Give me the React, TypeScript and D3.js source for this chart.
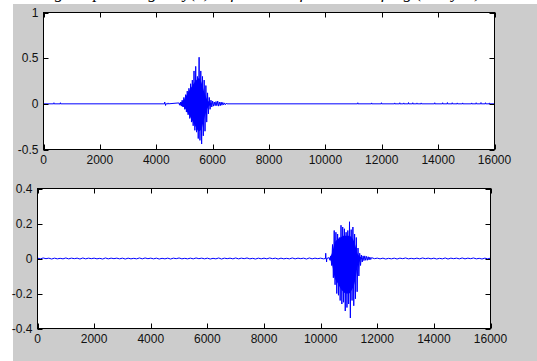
import React from 'react';
import * as d3 from 'd3';

// sample axis (both panels)
const xTicks = [0, 2000, 4000, 6000, 8000, 10000, 12000, 14000, 16000];
const topYTicks = [-0.5, 0, 0.5, 1];
const bottomYTicks = [-0.4, -0.2, 0, 0.2, 0.4];

const burstStep = 30; // samples between burst values
const coreStep = 100; // samples between core envelope values

// top panel: original word
const topBurstStart = 4800;
const topBurst = [
  0.01, -0.015, 0.02, -0.025, 0.04, -0.035, 0.07, -0.06, 0.1, -0.09,
  0.14, -0.12, 0.17, -0.16, 0.22, -0.2, 0.26, -0.24, 0.36, -0.29,
  0.41, -0.31, 0.3, -0.38, 0.51, -0.4, 0.36, -0.44, 0.3, -0.35,
  0.26, -0.3, 0.2, -0.2, 0.12, -0.11, 0.07, -0.06, 0.04, -0.035,
  0.03, -0.025, 0.02, -0.02, 0.025, -0.02, 0.03, -0.025, 0.02, -0.02,
  0.02, -0.015, 0.015, -0.01, 0.01, -0.01, 0.005, 0,
];
// solid centre of the burst (upper / lower edge)
const topCoreStart = 4800;
const topCoreHi = [0, 0.02, 0.05, 0.11, 0.16, 0.21, 0.25, 0.28, 0.24, 0.13, 0.05, 0.015, 0];
const topCoreLo = [0, -0.02, -0.04, -0.09, -0.14, -0.2, -0.25, -0.3, -0.28, -0.16, -0.06, -0.015, 0];
const topBlips: [number, number][] = [
  [370, 0.012], [600, 0.012], [4300, 0.02], [4330, -0.018], [4420, 0.01],
  [11150, 0.012], [11640, 0.01], [11990, 0.012], [12460, 0.01], [12640, 0.012],
  [12780, 0.01], [12950, 0.014], [13100, 0.012], [13250, 0.01], [13400, 0.01],
  [13880, 0.012], [14160, 0.012], [14330, 0.014], [14500, 0.012], [14680, 0.01],
  [14870, 0.01], [15190, 0.01], [15350, 0.012], [15520, 0.014], [15680, 0.012],
  [15820, 0.01],
];

// bottom panel: shifted word, with a low noise floor
const noiseStep = 100;
const bottomNoise = [
  0.002, -0.002, 0.003, -0.001, 0.002, -0.003, 0.002, -0.002, 0.001, -0.002,
  0.003, -0.002, 0.002, -0.001, 0.002, -0.003, 0.003, -0.002, 0.002, -0.001,
  0.002, -0.002, 0.001, -0.003, 0.003, -0.002, 0.002, -0.001, 0.002, -0.002,
  0.002, -0.003, 0.002, -0.002, 0.001, -0.002, 0.003, -0.002, 0.003, -0.001,
  0.002, -0.002, 0.002, -0.003, 0.001, -0.002, 0.002, -0.003, 0.002, -0.001,
  0.003, -0.002, 0.001, -0.002, 0.002, -0.002, 0.003, -0.001, 0.002, -0.002,
  0.002, -0.003, 0.001, -0.002, 0.003, -0.003, 0.002, -0.001, 0.002, -0.002,
  0.003, -0.002, 0.002, -0.001, 0.003, -0.002, 0.001, -0.003, 0.002, -0.002,
  0.002, -0.002, 0.003, -0.001, 0.002, -0.003, 0.002, -0.002, 0.001, -0.002,
  0.003, -0.002, 0.002, -0.001, 0.002, -0.003, 0.003, -0.002, 0.002, -0.001,
  0.002, -0.002, 0.001, -0.003, 0.003, -0.002, 0.002, -0.001, 0.002, -0.002,
  0.002, -0.003, 0.002, -0.002, 0.001, -0.002, 0.003, -0.002, 0.003, -0.001,
  0.002, -0.002, 0.002, -0.003, 0.001, -0.002, 0.002, -0.003, 0.002, -0.001,
  0.003, -0.002, 0.001, -0.002, 0.002, -0.002, 0.003, -0.001, 0.002, -0.002,
  0.002, -0.003, 0.001, -0.002, 0.003, -0.003, 0.002, -0.001, 0.002, -0.002,
  0.003, -0.002, 0.002, -0.001, 0.003, -0.002, 0.001, -0.003, 0.002, -0.002,
  0.002,
];
const bottomBurstStart = 10300;
const bottomBurst = [
  0.005, -0.01, 0.015, -0.04, 0.08, -0.11, 0.16, -0.15, 0.15, -0.2,
  0.14, -0.21, 0.12, -0.24, 0.19, -0.26, 0.18, -0.25, 0.17, -0.3,
  0.15, -0.28, 0.16, -0.26, 0.21, -0.34, 0.165, -0.24, 0.18, -0.27,
  0.14, -0.23, 0.12, -0.19, 0.06, -0.1, 0.03, -0.04, 0.02, -0.02,
  0.015, -0.012, 0.015, -0.01, 0.012, -0.01, 0.01, -0.008, 0.008, -0.006,
  0.005,
];
const bottomCoreStart = 10300;
const bottomCoreHi = [0, 0.03, 0.09, 0.11, 0.12, 0.13, 0.13, 0.13, 0.12, 0.09, 0.03, 0.01, 0];
const bottomCoreLo = [0, -0.03, -0.11, -0.14, -0.17, -0.19, -0.2, -0.2, -0.18, -0.14, -0.05, -0.01, 0];
const bottomBlips: [number, number][] = [[10180, 0.03], [10210, -0.02]];

const captionText = 'Fig. 5 Speech signal y(n) before and after time shifting (delayed)';

type Pt = [number, number];

function buildSignal(base: Pt[], blips: Pt[], burstStart: number, burst: number[]): Pt[] {
  const burstEnd = burstStart + (burst.length - 1) * burstStep;
  const pts: Pt[] = base.filter(([s]) => s < burstStart - 20 || s > burstEnd + 20);
  blips.forEach(([s, v]) => {
    pts.push([s - 8, 0], [s, v], [s + 8, 0]);
  });
  burst.forEach((v, i) => pts.push([burstStart + i * burstStep, v]));
  return pts.sort((a, b) => a[0] - b[0]);
}

function buildCore(start: number, hi: number[], lo: number[]) {
  return hi.map((h, i) => ({ s: start + i * coreStep, hi: h, lo: lo[i] }));
}

const topSignal = buildSignal([[0, 0], [16000, 0]], topBlips, topBurstStart, topBurst);
const bottomSignal = buildSignal(
  bottomNoise.map((v, i) => [i * noiseStep, v] as Pt),
  bottomBlips,
  bottomBurstStart,
  bottomBurst
);
const topCore = buildCore(topCoreStart, topCoreHi, topCoreLo);
const bottomCore = buildCore(bottomCoreStart, bottomCoreHi, bottomCoreLo);

const font = '"Liberation Sans", Arial, Helvetica, sans-serif';
const blue = '#0000ff';

type Core = { s: number; hi: number; lo: number };

function Panel({ left, right, top, bottom, yDomain, yTicks, data, core }: {
  left: number; right: number; top: number; bottom: number;
  yDomain: [number, number]; yTicks: number[]; data: Pt[]; core: Core[];
}) {
  const x = d3.scaleLinear().domain([0, 16000]).range([left, right]);
  const y = d3.scaleLinear().domain(yDomain).range([bottom, top]);
  const line = d3.line<Pt>().x(d => x(d[0])).y(d => y(d[1]));
  const area = d3.area<Core>().x(d => x(d.s)).y0(d => y(d.lo)).y1(d => y(d.hi)).curve(d3.curveMonotoneX);
  const tick = 5;

  return (
    <g>
      <rect x={left} y={top} width={right - left} height={bottom - top} fill="#ffffff" />
      <path d={area(core) || ''} fill={blue} />
      <path d={line(data) || ''} fill="none" stroke={blue} strokeWidth={1} />
      <rect x={left} y={top} width={right - left} height={bottom - top} fill="none" stroke="#000" strokeWidth={1} />
      {xTicks.map(t => (
        <g key={'x' + t}>
          <line x1={Math.round(x(t)) + 0.5} x2={Math.round(x(t)) + 0.5} y1={bottom} y2={bottom - tick} stroke="#000" />
          <line x1={Math.round(x(t)) + 0.5} x2={Math.round(x(t)) + 0.5} y1={top} y2={top + tick} stroke="#000" />
          <text x={x(t)} y={bottom + 14.5} textAnchor="middle" fontSize={12} fontFamily={font} fill="#111">
            {String(t)}
          </text>
        </g>
      ))}
      {yTicks.map(t => (
        <g key={'y' + t}>
          <line x1={left} x2={left + tick} y1={Math.round(y(t)) + 0.5} y2={Math.round(y(t)) + 0.5} stroke="#000" />
          <line x1={right} x2={right - tick} y1={Math.round(y(t)) + 0.5} y2={Math.round(y(t)) + 0.5} stroke="#000" />
          <text x={left - 5} y={y(t)} dy="0.36em" textAnchor="end" fontSize={12} fontFamily={font} fill="#111">
            {String(t)}
          </text>
        </g>
      ))}
    </g>
  );
}

export default function App() {
  return (
    <svg width={537} height={361} style={{ position: 'absolute', left: 0, top: 0, background: '#fff' }}>
      <text x={40} y={-2.5} fontSize={17} fontStyle="italic" fontFamily='"Liberation Serif", "Times New Roman", serif' fill="#000">
        {captionText}
      </text>
      <rect x={13} y={4} width={524} height={357} fill="#cccccc" />
      <Panel left={43.5} right={494.5} top={12.5} bottom={149.5} yDomain={[-0.5, 1]} yTicks={topYTicks} data={topSignal} core={topCore} />
      <Panel left={37.5} right={490.5} top={188.5} bottom={328.5} yDomain={[-0.4, 0.4]} yTicks={bottomYTicks} data={bottomSignal} core={bottomCore} />
    </svg>
  );
}
